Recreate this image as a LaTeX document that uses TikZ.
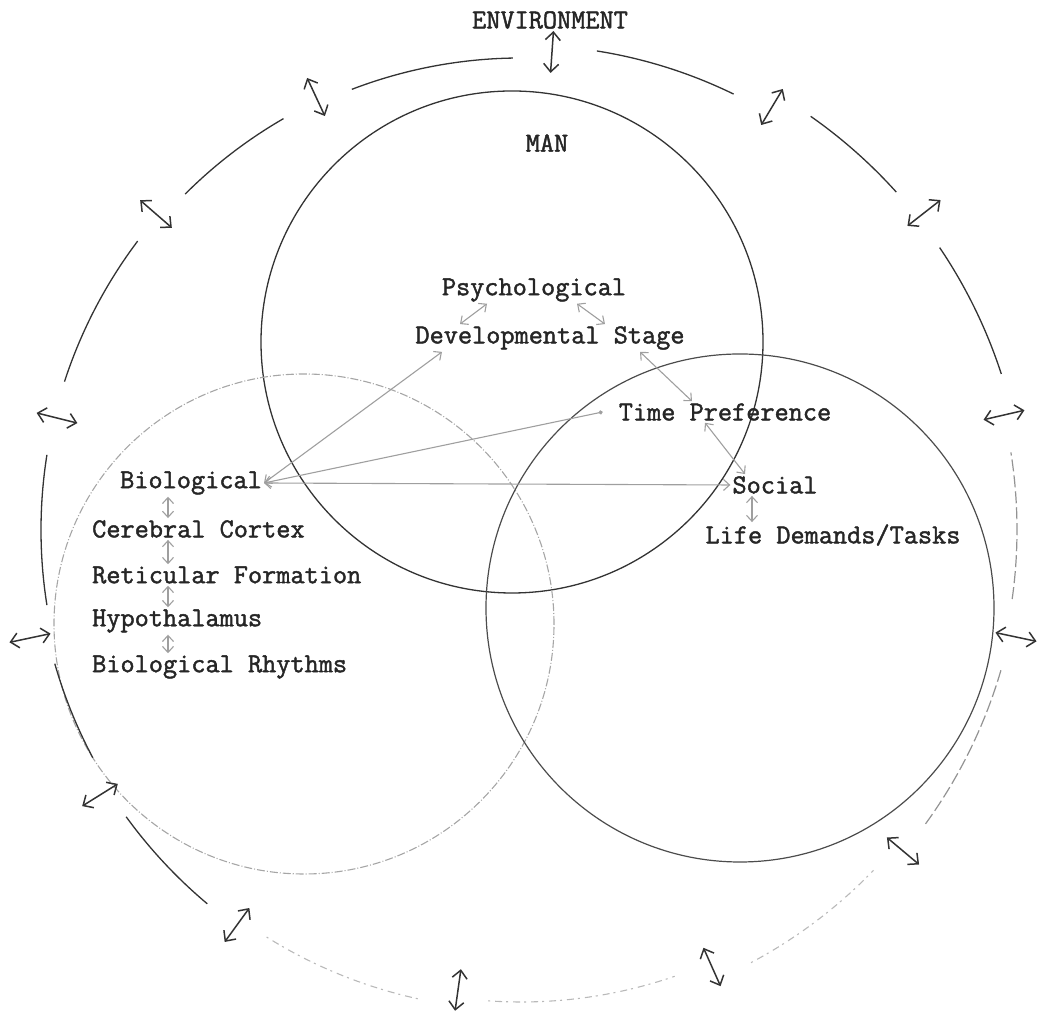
\documentclass[tikz,border=0pt]{standalone}
\usepackage{fontspec}
\setmonofont{Latin Modern Mono}[FakeBold=1.6]
\usetikzlibrary{arrows.meta,calc}

\tikzset{
  lbl/.style={font=\fontsize{27.5}{32}\selectfont\ttfamily,text=black!85,inner sep=2pt},
  link/.style={<->,gray!75,line width=1.1pt},
  ring/.style={black!80,line width=1.3pt},
  ringdash/.style={gray!85,line width=1.2pt,dash pattern=on 12pt off 4pt},
  ringfaint/.style={gray!55,line width=1.1pt,dash pattern=on 2pt off 5pt on 7pt off 4pt},
  ringarrow/.style={<->,black!80,line width=1.5pt,>={Straight Barb[length=8pt,width=15pt]}},
}

\begin{document}
\begin{tikzpicture}[x=1pt,y=1pt,>={Straight Barb[length=6pt,width=11pt]}]
\useasboundingbox (0,0) rectangle (1037,1019);

% the three spheres
\draw[black!80,line width=1.3pt] (512,677) circle (251);
\draw[gray!70,line width=1.1pt,dash pattern=on 8pt off 2pt on 1pt off 2pt] (304,395) circle (250);
\draw[black!70,line width=1.2pt] (740,411) circle (254);

% environment ring, broken by the arrows
\coordinate (O) at (521,489);
\foreach \a/\b/\r in {91/111/472,120/135/475,143/162/480,171/189/480,196/208/485,216/230/488,
                      378/394/505,402/415/505,424/441/485}
  \draw[ring] ($(O)+(\a:\r)$) arc[start angle=\a,end angle=\b,radius=\r];
\foreach \a/\b/\r in {238/258/480,266/289/472,298/316/490}
  \draw[ringfaint] ($(O)+(\a:\r)$) arc[start angle=\a,end angle=\b,radius=\r];
\foreach \a/\b/\r in {324/344/500,352/369/496}
  \draw[ringdash] ($(O)+(\a:\r)$) arc[start angle=\a,end angle=\b,radius=\r];
\foreach \x/\y/\a in {552/967/86,316/922/115,156/805/139,57/601/166,30/381/192,100/224/212,
                      237/94/234,458/29/262,712/52/294,903/168/320,1016/382/348,1004/604/13,
                      924/806/38,772/912/59}
  \draw[ringarrow] ($(\x,\y)+(\a:-21)$) -- ($(\x,\y)+(\a:21)$);

% labels
\node[lbl] (env) at (550,999) {ENVIRONMENT};
\node[lbl] (man) at (547,876) {MAN};
\node[lbl] (psy) at (534,729) {Psychological};
\node[lbl] (dev) at (550,681) {Developmental Stage};
\node[lbl] (time) at (725,607) {Time Preference};
\node[lbl] (soc) at (775,534) {Social};
\node[lbl] (life) at (833,484) {Life Demands/Tasks};
\node[lbl] (bio) at (191,536) {Biological};
\node[lbl,anchor=west] (cortex) at (90,490) {Cerebral Cortex};
\node[lbl,anchor=west] (retic) at (90,444) {Reticular Formation};
\node[lbl,anchor=west] (hypo) at (90,398) {Hypothalamus};
\node[lbl,anchor=west] (rhythm) at (90,352) {Biological Rhythms};

% links between the levels
\coordinate (spine) at (168,0);
\draw[link] ([xshift=-47]psy.south) -- ([xshift=-90]dev.north);
\draw[link] ([xshift=43]psy.south) -- ([xshift=55]dev.north);
\draw[link] ([xshift=90]dev.south) -- ([xshift=-33]time.north);
\draw[link] ([xshift=-20]time.south) -- ([xshift=-30]soc.north);
\draw[link] ([xshift=-23]soc.south) -- ([xshift=-81]life.north);
\draw[link] (bio.east) -- ([xshift=-108]dev.south);
\draw[link,<-{Circle[length=4pt]}] (bio.east) -- ([xshift=-14]time.west);
\draw[link] (bio.east) -- (soc.west);
\draw[link] (bio.south -| spine) -- (cortex.north -| spine);
\draw[link] (cortex.south -| spine) -- (retic.north -| spine);
\draw[link] (retic.south -| spine) -- (hypo.north -| spine);
\draw[link] (hypo.south -| spine) -- (rhythm.north -| spine);
\end{tikzpicture}
\end{document}
